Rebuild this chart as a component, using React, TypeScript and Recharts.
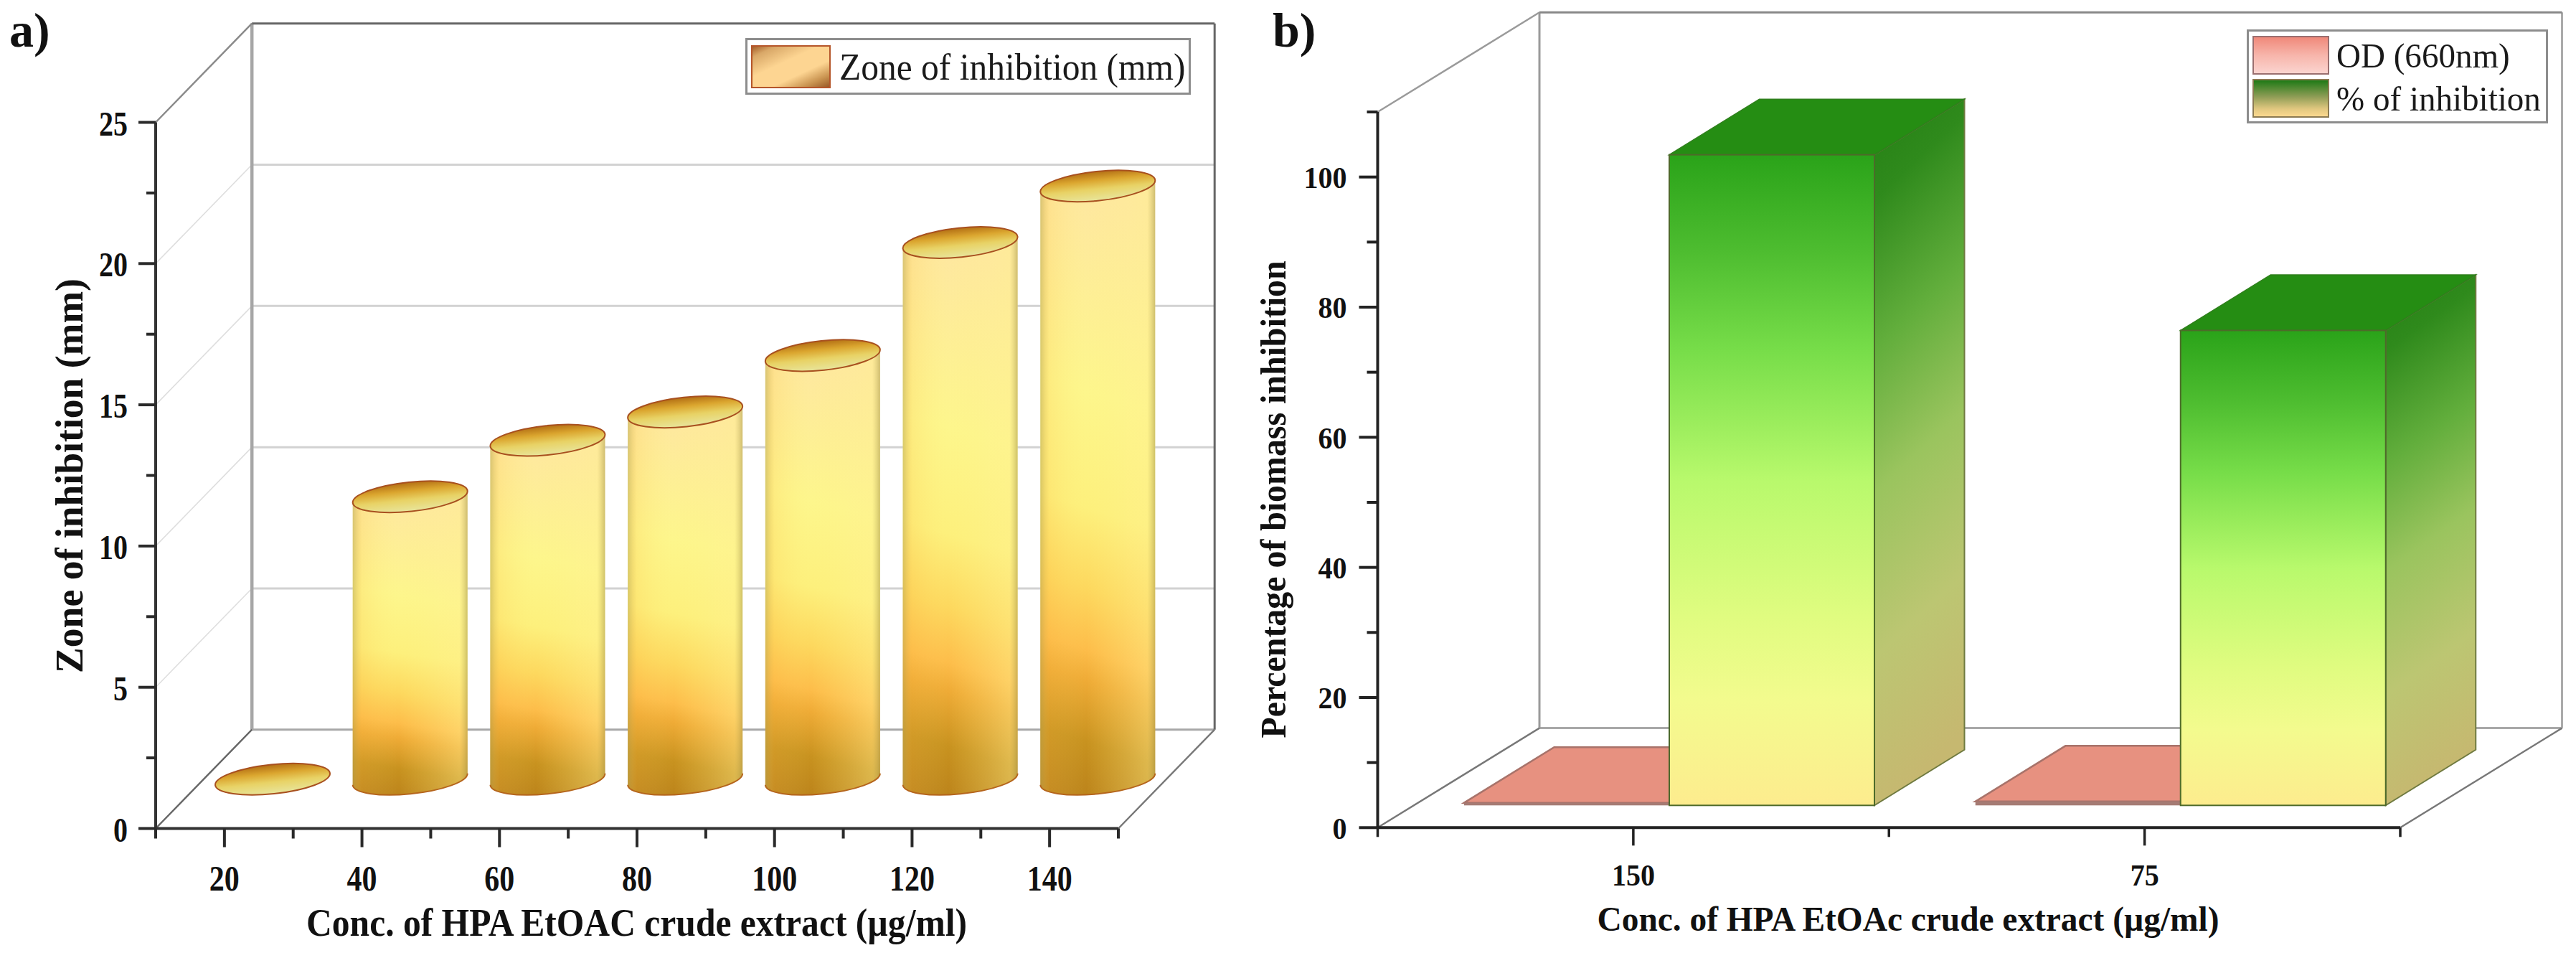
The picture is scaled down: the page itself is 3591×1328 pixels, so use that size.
import React from 'react';
import { ComposedChart, Bar, XAxis, YAxis, ReferenceLine, Legend } from 'recharts';

// ---------- Panel a) data ----------
const zoneConcentrations = [20, 40, 60, 80, 100, 120, 140];
const zoneValues = [0, 10, 12, 13, 15, 19, 21];
const zoneXTicks = [10, 20, 30, 40, 50, 60, 70, 80, 90, 100, 110, 120, 130, 140, 150];
const zoneYTicks = [0, 2.5, 5, 7.5, 10, 12.5, 15, 17.5, 20, 22.5, 25];
const zoneGridValues = [5, 10, 15, 20];

// ---------- Panel b) data ----------
const bioCategories = ['150', '75'];
const bioPositions = [0.5, 1.5];
const odValues = [0.4, 0.6];
const inhibitionValues = [100, 73];
const bioXTicks = [0, 0.5, 1, 1.5, 2];
const bioYTicks = [0, 10, 20, 30, 40, 50, 60, 70, 80, 90, 100, 110];

const zoneData = zoneConcentrations.map((c, i) => ({ conc: c, zone: zoneValues[i] }));
const bioData = bioPositions.map((p, i) => ({
  pos: p,
  category: bioCategories[i],
  od: odValues[i],
  inhibition: inhibitionValues[i],
}));

const SERIF = '"Liberation Serif", "Times New Roman", serif';
const TXT = '#111';

function segmentLine(
  key: string,
  a: [number, number],
  b: [number, number],
  stroke: string,
  w: number
) {
  return (
    <ReferenceLine
      key={key}
      segment={[
        { x: a[0], y: a[1] },
        { x: b[0], y: b[1] },
      ]}
      stroke={stroke}
      strokeWidth={w}
      ifOverflow="visible"
      zIndex={-50}
    />
  );
}

// Bold condensed text helper
function Squeezed(props: {
  x: number;
  y: number;
  size: number;
  length: number;
  anchor?: 'start' | 'middle' | 'end';
  rotate?: boolean;
  children: any;
}) {
  const { x, y, size, length, anchor = 'middle', rotate, children } = props;
  return (
    <text
      x={x}
      y={y}
      textAnchor={anchor}
      fontFamily={SERIF}
      fontWeight="bold"
      fontSize={size}
      fill={TXT}
      textLength={length}
      lengthAdjust="spacingAndGlyphs"
      transform={rotate ? `rotate(-90 ${x} ${y})` : undefined}
    >
      {children}
    </text>
  );
}

// ---------- Cylinder bar (panel a) ----------
const CYL_DX = 67;
const CYL_DY = -68.7;
const TILT = 8;
const RY = 20.4;

function Cylinder(props: any) {
  const { x, y, width, height } = props;
  const hw = width / 2;
  const cx = x + hw + CYL_DX;
  const topY = y + CYL_DY;
  const botY = y + height + CYL_DY;
  const rx = hw + 0.4;
  const side =
    `M${cx - hw},${topY + TILT} L${cx - hw},${botY + TILT} ` +
    `A${rx},${RY} -6 0 0 ${cx + hw},${botY - TILT} L${cx + hw},${topY - TILT} Z`;
  const bottomArc = `M${cx - hw},${botY + TILT} A${rx},${RY} -6 0 0 ${cx + hw},${botY - TILT}`;
  return (
    <g>
      {height > 0 && (
        <g>
          <path d={side} fill="url(#cylSide)" />
          <path d={side} fill="url(#cylShade)" />
          <path d={bottomArc} fill="none" stroke="#b5651d" strokeWidth={2} />
        </g>
      )}
      <ellipse
        cx={cx}
        cy={topY}
        rx={rx}
        ry={RY}
        transform={`rotate(-6 ${cx} ${topY})`}
        fill="url(#cylTop)"
        stroke="#a8501f"
        strokeWidth={2}
      />
    </g>
  );
}

// ---------- Box bars (panel b) ----------
const FRONT_DX = 50.5;
const FRONT_DY = -31;
const BOX_DX = 125.5;
const BOX_DY = -77.5;

function boxPaths(x: number, y: number, w: number, h: number) {
  const fx = x + FRONT_DX;
  const fy = y + FRONT_DY;
  return {
    fx,
    fy,
    top: `M${fx},${fy} L${fx + BOX_DX},${fy + BOX_DY} L${fx + w + BOX_DX},${fy + BOX_DY} L${fx + w},${fy} Z`,
    side: `M${fx + w},${fy} L${fx + w + BOX_DX},${fy + BOX_DY} L${fx + w + BOX_DX},${fy + h + BOX_DY} L${fx + w},${fy + h} Z`,
  };
}

function GreenBox(props: any) {
  const { x, y, width, height } = props;
  const { fx, fy, top, side } = boxPaths(x, y, width, height);
  return (
    <g>
      <path d={side} fill="url(#boxSide)" stroke="#6f7a40" strokeWidth={2} />
      <path d={top} fill="#258d13" stroke="#2f7f1c" strokeWidth={1.5} />
      <rect
        x={fx}
        y={fy}
        width={width}
        height={height}
        fill="url(#boxFront)"
        stroke="#4d6a2a"
        strokeWidth={2}
      />
    </g>
  );
}

function RedBox(props: any) {
  const { x, y, width, height } = props;
  const { fx, fy, top } = boxPaths(x, y, width, height);
  return (
    <g>
      <path d={top} fill="#e79180" stroke="#a8736a" strokeWidth={2.5} />
      <rect x={fx} y={fy} width={width} height={Math.max(height, 2)} fill="#a57b74" />
    </g>
  );
}

// ---------- Axis ticks ----------
function ZoneXTick(props: any) {
  const { x, y, payload } = props;
  const major = zoneConcentrations.includes(payload.value);
  return (
    <g>
      <line x1={x} y1={y} x2={x} y2={y + (major ? 26 : 14)} stroke="#2a2a2a" strokeWidth={4} />
      {major && (
        <Squeezed x={x} y={y + 86.5} size={50} length={21 * String(payload.value).length}>
          {payload.value}
        </Squeezed>
      )}
    </g>
  );
}

function ZoneYTick(props: any) {
  const { x, y, payload } = props;
  const major = payload.value % 5 === 0;
  return (
    <g>
      <line x1={x - (major ? 24 : 13)} y1={y} x2={x} y2={y} stroke="#2a2a2a" strokeWidth={4} />
      {major && (
        <Squeezed x={x - 39} y={y + 18} size={49} length={20 * String(payload.value).length} anchor="end">
          {payload.value}
        </Squeezed>
      )}
    </g>
  );
}

function BioXTick(props: any) {
  const { x, y, payload } = props;
  const idx = bioPositions.indexOf(payload.value);
  const major = idx >= 0;
  return (
    <g>
      <line x1={x} y1={y} x2={x} y2={y + (major ? 25 : 13)} stroke="#222" strokeWidth={3.5} />
      {major && (
        <Squeezed x={x} y={y + 81} size={43} length={20 * bioCategories[idx].length}>
          {bioCategories[idx]}
        </Squeezed>
      )}
    </g>
  );
}

function BioYTick(props: any) {
  const { x, y, payload } = props;
  const major = payload.value % 20 === 0;
  return (
    <g>
      <line x1={x - (major ? 26 : 15)} y1={y} x2={x} y2={y} stroke="#222" strokeWidth={4} />
      {major && (
        <Squeezed x={x - 43} y={y + 15.5} size={43} length={20 * String(payload.value).length} anchor="end">
          {payload.value}
        </Squeezed>
      )}
    </g>
  );
}

// ---------- Legends ----------
const zoneSwatches = [
  {
    background: 'linear-gradient(155deg,#a5602a 0%,#d9a868 14%,#fdd592 40%,#fdd592 65%,#c8924f 85%,#9a5a28 100%)',
    border: '2px solid #b5562a',
  },
];
const bioSwatches = [
  { background: 'linear-gradient(180deg,#f0897a 0%,#f7b5ab 50%,#fbd4cf 100%)', border: '2px solid #9a6f6f' },
  { background: 'linear-gradient(180deg,#1f7a16 0%,#8d9c55 45%,#e2c880 80%,#fbd98f 100%)', border: '2px solid #8b7a52' },
];

function makeLegend(
  swatches: { background: string; border: string }[],
  swatchW: number,
  swatchH: number,
  fontSize: number,
  squeeze: number,
  rowGap: number,
  padTop: number,
  padLeft: number,
  textGap: number
) {
  return (props: any) => (
    <div
      style={{
        boxSizing: 'border-box',
        width: '100%',
        height: '100%',
        border: '3px solid #8d8d8d',
        background: '#fff',
        paddingTop: padTop,
        paddingLeft: padLeft,
        fontFamily: SERIF,
        color: '#1a1a1a',
      }}
    >
      {(props.payload || []).map((entry: any, i: number) => (
        <div
          key={entry.value}
          style={{
            display: 'flex',
            alignItems: 'center',
            height: swatchH,
            marginBottom: rowGap,
            fontSize,
            whiteSpace: 'nowrap',
          }}
        >
          <div
            style={{
              boxSizing: 'border-box',
              width: swatchW,
              height: swatchH,
              marginRight: textGap,
              flex: 'none',
              ...swatches[i],
            }}
          />
          <span style={{ display: 'inline-block', transform: `scaleX(${squeeze})`, transformOrigin: 'left center' }}>
            {entry.value}
          </span>
        </div>
      ))}
    </div>
  );
}

const ZoneLegend = makeLegend(zoneSwatches, 111, 60, 53, 0.934, 0, 7, 5, 12);
const BioLegend = makeLegend(bioSwatches, 107, 54, 49, 0.96, 6, 6, 5, 10);

// ---------- Depth of the 3D box in data units ----------
const ZX0 = 10;
const ZX1 = 150;
const ZY1 = 25;
const ZDX = 14;
const ZDY = 3.5;

const BX0 = 0;
const BX1 = 2;
const BY1 = 110;
const BDX = 0.3164;
const BDY = 15.3;

const zoneLines = [
  ...zoneGridValues.flatMap((v) => [
    segmentLine(`gs${v}`, [ZX0, v], [ZX0 + ZDX, v + ZDY], '#dedede', 1.6),
    segmentLine(`gb${v}`, [ZX0 + ZDX, v + ZDY], [ZX1 + ZDX, v + ZDY], '#d2d2d2', 3),
  ]),
  segmentLine('floorBack', [ZX0 + ZDX, ZDY], [ZX1 + ZDX, ZDY], '#a8a8a8', 3),
  segmentLine('leftV', [ZX0 + ZDX, ZDY], [ZX0 + ZDX, ZY1 + ZDY], '#a6a6a6', 4.5),
  segmentLine('rightV', [ZX1 + ZDX, ZDY], [ZX1 + ZDX, ZY1 + ZDY], '#666', 3),
  segmentLine('top', [ZX0 + ZDX, ZY1 + ZDY], [ZX1 + ZDX, ZY1 + ZDY], '#666', 3),
  segmentLine('slantTop', [ZX0, ZY1], [ZX0 + ZDX, ZY1 + ZDY], '#8a8a8a', 2.5),
  segmentLine('slantFloorL', [ZX0, 0], [ZX0 + ZDX, ZDY], '#666', 2.5),
  segmentLine('slantFloorR', [ZX1, 0], [ZX1 + ZDX, ZDY], '#777', 2.5),
];

const bioLines = [
  segmentLine('floorBack', [BX0 + BDX, BDY], [BX1 + BDX, BDY], '#a8a8a8', 3),
  segmentLine('leftV', [BX0 + BDX, BDY], [BX0 + BDX, BY1 + BDY], '#9a9a9a', 3),
  segmentLine('rightV', [BX1 + BDX, BDY], [BX1 + BDX, BY1 + BDY], '#aaa', 3),
  segmentLine('top', [BX0 + BDX, BY1 + BDY], [BX1 + BDX, BY1 + BDY], '#888', 3),
  segmentLine('slantTop', [BX0, BY1], [BX0 + BDX, BY1 + BDY], '#9a9a9a', 2.5),
  segmentLine('slantFloorL', [BX0, 0], [BX0 + BDX, BDY], '#777', 2.5),
  segmentLine('slantFloorR', [BX1, 0], [BX1 + BDX, BDY], '#777', 2.5),
];

export default function App() {
  return (
    <div style={{ position: 'absolute', left: 0, top: 0, width: 3591, height: 1328, background: '#fff', overflow: 'hidden' }}>
      <div style={{ position: 'absolute', left: 13, top: 4, fontFamily: SERIF, fontWeight: 'bold', fontSize: 68, lineHeight: '76px', color: TXT }}>a)</div>
      <div style={{ position: 'absolute', left: 1774, top: 4, fontFamily: SERIF, fontWeight: 'bold', fontSize: 68, lineHeight: '76px', color: TXT }}>b)</div>

      <div style={{ position: 'absolute', left: 0, top: 0 }}>
        <ComposedChart
          width={1740}
          height={1328}
          data={zoneData}
          barSize={160}
          margin={{ top: 170.5, right: 181, left: 0, bottom: 0 }}
        >
          <defs>
            <linearGradient id="cylSide" x1="0" y1="1" x2="0.06" y2="0">
              <stop offset="0%" stopColor="#b9801a" />
              <stop offset="11%" stopColor="#c8921f" />
              <stop offset="21%" stopColor="#efab36" />
              <stop offset="26%" stopColor="#fdbd4a" />
              <stop offset="36%" stopColor="#fdd85e" />
              <stop offset="49%" stopColor="#fdf07c" />
              <stop offset="68%" stopColor="#fdf68c" />
              <stop offset="100%" stopColor="#fee7a0" />
            </linearGradient>
            <linearGradient id="cylShade" x1="0" y1="0" x2="1" y2="0">
              <stop offset="0%" stopColor="#b8a552" stopOpacity={0.55} />
              <stop offset="8%" stopColor="#fdbe4a" stopOpacity={0.18} />
              <stop offset="40%" stopColor="#fff080" stopOpacity={0} />
              <stop offset="75%" stopColor="#fff090" stopOpacity={0.25} />
              <stop offset="93%" stopColor="#fff090" stopOpacity={0.4} />
              <stop offset="100%" stopColor="#b5a555" stopOpacity={0.65} />
            </linearGradient>
            <linearGradient id="cylTop" x1="0" y1="0" x2="0" y2="1">
              <stop offset="0%" stopColor="#b36f14" />
              <stop offset="30%" stopColor="#dba62f" />
              <stop offset="60%" stopColor="#e8d265" />
              <stop offset="100%" stopColor="#e8e59c" />
            </linearGradient>
          </defs>
          {zoneLines}
          <XAxis
            dataKey="conc"
            type="number"
            domain={[ZX0, ZX1]}
            ticks={zoneXTicks}
            interval={0}
            height={173.5}
            tickLine={false}
            tickSize={0}
            tickMargin={0}
            axisLine={{ stroke: '#333', strokeWidth: 4 }}
            tick={ZoneXTick}
            label={{
              content: () => (
                <Squeezed x={887.5} y={1304} size={54} length={921}>
                  Conc. of HPA EtOAC crude extract (µg/ml)
                </Squeezed>
              ),
            }}
          />
          <YAxis
            type="number"
            domain={[0, ZY1]}
            ticks={zoneYTicks}
            interval={0}
            width={217}
            tickLine={false}
            tickSize={0}
            tickMargin={0}
            axisLine={{ stroke: '#333', strokeWidth: 4 }}
            tick={ZoneYTick}
            label={{
              content: () => (
                <Squeezed x={115} y={663} size={55} length={550} rotate>
                  Zone of inhibition (mm)
                </Squeezed>
              ),
            }}
          />
          <Legend
            layout="horizontal"
            verticalAlign="middle"
            align="center"
            itemSorter={null}
            content={ZoneLegend}
            wrapperStyle={{ left: 1039, top: 53, width: 621, height: 79 }}
          />
          <Bar dataKey="zone" name="Zone of inhibition (mm)" fill="#fdd592" shape={Cylinder} isAnimationActive={false} />
        </ComposedChart>
      </div>

      <div style={{ position: 'absolute', left: 1740, top: 0 }}>
        <ComposedChart
          width={1851}
          height={1328}
          data={bioData}
          barSize={286}
          barGap={0}
          margin={{ top: 156, right: 245, left: 0, bottom: 0 }}
        >
          <defs>
            <linearGradient id="boxFront" x1="0" y1="0" x2="0" y2="1">
              <stop offset="0%" stopColor="#2aa319" />
              <stop offset="15%" stopColor="#4ebd30" />
              <stop offset="30%" stopColor="#77dd49" />
              <stop offset="50%" stopColor="#b8f96c" />
              <stop offset="71%" stopColor="#e0fc80" />
              <stop offset="84%" stopColor="#f3fb8e" />
              <stop offset="100%" stopColor="#fdec8e" />
            </linearGradient>
            <linearGradient id="boxSide" x1="0" y1="0" x2="0.12" y2="1">
              <stop offset="0%" stopColor="#247f14" />
              <stop offset="14%" stopColor="#2f8a1c" />
              <stop offset="35%" stopColor="#62ae3c" />
              <stop offset="55%" stopColor="#9ac45e" />
              <stop offset="78%" stopColor="#bcc672" />
              <stop offset="100%" stopColor="#c6b870" />
            </linearGradient>
          </defs>
          {bioLines}
          <XAxis
            dataKey="pos"
            type="number"
            domain={[BX0, BX1]}
            ticks={bioXTicks}
            interval={0}
            height={174.7}
            tickLine={false}
            tickSize={0}
            tickMargin={0}
            axisLine={{ stroke: '#222', strokeWidth: 4 }}
            tick={BioXTick}
            label={{
              content: () => (
                <Squeezed x={920} y={1297} size={48} length={867}>
                  Conc. of HPA EtOAc crude extract (µg/ml)
                </Squeezed>
              ),
            }}
          />
          <YAxis
            type="number"
            domain={[0, BY1]}
            ticks={bioYTicks}
            interval={0}
            width={180.5}
            tickLine={false}
            tickSize={0}
            tickMargin={0}
            axisLine={{ stroke: '#222', strokeWidth: 4 }}
            tick={BioYTick}
            label={{
              content: () => (
                <Squeezed x={52} y={696} size={50} length={665} rotate>
                  Percentage of biomass inhibition
                </Squeezed>
              ),
            }}
          />
          <Legend
            layout="horizontal"
            verticalAlign="middle"
            align="center"
            itemSorter={null}
            content={BioLegend}
            wrapperStyle={{ left: 1392, top: 41, width: 420, height: 131 }}
          />
          <Bar dataKey="od" name="OD (660nm)" fill="#e79180" shape={RedBox} isAnimationActive={false} />
          <Bar dataKey="inhibition" name="% of inhibition" fill="#2aa319" shape={GreenBox} isAnimationActive={false} />
        </ComposedChart>
      </div>
    </div>
  );
}
